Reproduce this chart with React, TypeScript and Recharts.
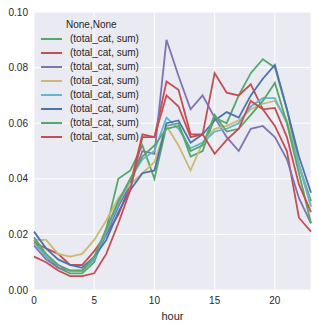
import React from "react";
import { LineChart, Line, XAxis, YAxis, CartesianGrid } from "recharts";

const hours = [0, 1, 2, 3, 4, 5, 6, 7, 8, 9, 10, 11, 12, 13, 14, 15, 16, 17, 18, 19, 20, 21, 22, 23];

const green1 = [0.018, 0.012, 0.008, 0.006, 0.006, 0.010, 0.022, 0.040, 0.043, 0.052, 0.040, 0.059, 0.060, 0.048, 0.050, 0.062, 0.060, 0.070, 0.078, 0.083, 0.080, 0.065, 0.045, 0.032];
const redA = [0.017, 0.015, 0.013, 0.009, 0.009, 0.014, 0.020, 0.027, 0.038, 0.056, 0.055, 0.075, 0.072, 0.056, 0.056, 0.078, 0.071, 0.070, 0.074, 0.065, 0.059, 0.050, 0.026, 0.021];
const purple = [0.016, 0.011, 0.008, 0.007, 0.007, 0.011, 0.020, 0.030, 0.038, 0.050, 0.049, 0.090, 0.077, 0.065, 0.070, 0.062, 0.055, 0.050, 0.058, 0.059, 0.055, 0.047, 0.033, 0.024];
const yellow = [0.018, 0.018, 0.013, 0.012, 0.013, 0.018, 0.025, 0.033, 0.038, 0.042, 0.046, 0.059, 0.052, 0.043, 0.053, 0.058, 0.059, 0.061, 0.065, 0.067, 0.068, 0.061, 0.045, 0.030];
const cyan = [0.017, 0.012, 0.009, 0.007, 0.007, 0.011, 0.021, 0.031, 0.040, 0.047, 0.050, 0.062, 0.058, 0.051, 0.053, 0.057, 0.058, 0.060, 0.066, 0.069, 0.069, 0.060, 0.045, 0.030];
const blue = [0.021, 0.015, 0.011, 0.009, 0.008, 0.012, 0.018, 0.028, 0.036, 0.042, 0.043, 0.060, 0.061, 0.053, 0.056, 0.061, 0.064, 0.062, 0.070, 0.076, 0.081, 0.065, 0.048, 0.035];
const green2 = [0.019, 0.013, 0.009, 0.007, 0.007, 0.012, 0.022, 0.032, 0.040, 0.048, 0.052, 0.058, 0.059, 0.050, 0.052, 0.063, 0.057, 0.058, 0.063, 0.068, 0.0745, 0.060, 0.042, 0.024];
const redB = [0.012, 0.010, 0.007, 0.005, 0.005, 0.006, 0.013, 0.024, 0.036, 0.055, 0.055, 0.070, 0.066, 0.055, 0.056, 0.049, 0.054, 0.058, 0.068, 0.065, 0.0655, 0.055, 0.038, 0.028];

const xTicks = [0, 5, 10, 15, 20];
const yTicks = [0, 0.02, 0.04, 0.06, 0.08, 0.1];

const series = [
  { key: "s1", values: green1, color: "#55A868" },
  { key: "s2", values: redA, color: "#C44E52" },
  { key: "s3", values: purple, color: "#8172B2" },
  { key: "s4", values: yellow, color: "#CCB974" },
  { key: "s5", values: cyan, color: "#64B5CD" },
  { key: "s6", values: blue, color: "#4C72B0" },
  { key: "s7", values: green2, color: "#55A868" },
  { key: "s8", values: redB, color: "#C44E52" },
];

const data = hours.map((h, i) => {
  const row: Record<string, number> = { hour: h };
  series.forEach(s => { row[s.key] = s.values[i]; });
  return row;
});

const font = "'Liberation Sans', Arial, sans-serif";

const LegendBox = () => (
  <div style={{ position: "absolute", left: 34, top: 18, fontFamily: font, fontSize: 10, color: "#262626", lineHeight: "14px" }}>
    <div style={{ paddingLeft: 32 }}>None,None</div>
    {series.map(s => (
      <div key={s.key} style={{ display: "flex", alignItems: "center", height: 14 }}>
        <span style={{ display: "inline-block", width: 21, height: 2, background: s.color, marginLeft: 7, marginRight: 8 }} />
        <span>(total_cat, sum)</span>
      </div>
    ))}
  </div>
);

export default function App() {
  return (
    <div style={{ position: "fixed", left: 0, top: 0, width: 319, height: 328, background: "#fff" }}>
      <LineChart width={319} height={328} data={data} margin={{ top: 12, right: 8, bottom: 0, left: 0 }}>
        <CartesianGrid fill="#EAEAF2" stroke="#ffffff" strokeWidth={1} />
        <XAxis
          dataKey="hour" type="number" domain={[0, 23]} ticks={xTicks}
          axisLine={false} tickLine={false} tickSize={0} tickMargin={7} height={38}
          tick={{ fontSize: 10, fill: "#262626", fontFamily: font }}
          label={{ value: "hour", position: "insideBottom", offset: 8, fontSize: 11, fill: "#262626", fontFamily: font }}
        />
        <YAxis
          type="number" domain={[0, 0.1]} ticks={yTicks} width={34}
          axisLine={false} tickLine={false} tickSize={0} tickMargin={6}
          tickFormatter={(v: number) => v.toFixed(2)}
          tick={{ fontSize: 10, fill: "#262626", fontFamily: font }}
        />
        {series.map(s => (
          <Line key={s.key} dataKey={s.key} stroke={s.color} strokeWidth={1.8} dot={false} isAnimationActive={false} />
        ))}
      </LineChart>
      <LegendBox />
    </div>
  );
}
